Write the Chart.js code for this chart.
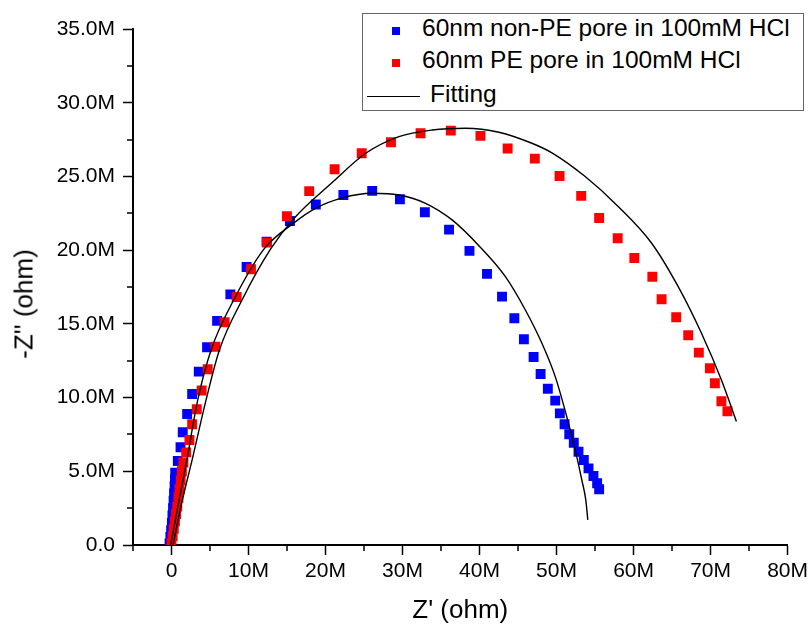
<!DOCTYPE html>
<html>
<head>
<meta charset="utf-8">
<script src="https://cdn.jsdelivr.net/npm/chart.js@4.4.0/dist/chart.umd.min.js"></script>
<style>
  body { margin: 0; background: #fff; }
  #area { position: relative; width: 812px; height: 626px; font-family: 'Liberation Sans', Arial, sans-serif; color: #000; }
  #grafico { position: absolute; left: 0; top: 0; }
  #caixaLegenda { position: absolute; left: 362px; top: 13px; width: 440px; height: 96px; border: 1px solid #666; background: #fff; }
  .texto { position: absolute; font-size: 24.5px; line-height: 30px; white-space: nowrap; }
  .marca { position: absolute; width: 8px; height: 8px; }
  #tituloY { position: absolute; left: 24px; top: 304px; font-size: 26px; white-space: nowrap; transform: translate(-50%, -50%) rotate(-90deg); }
</style>
</head>
<body>
<div id="area">
  <canvas id="grafico" width="812" height="626"></canvas>
  <div id="caixaLegenda"></div>
  <div class="marca" style="left:392px; top:27px; background:#0000ff;"></div>
  <div class="texto" style="left:422px; top:12.5px;">60nm non-PE pore in 100mM HCl</div>
  <div class="marca" style="left:392px; top:59px; background:#ff0000;"></div>
  <div class="texto" style="left:422px; top:45px;">60nm PE pore in 100mM HCl</div>
  <div style="position:absolute; left:367px; top:96px; width:53px; height:0; border-top:1.5px solid #000;"></div>
  <div class="texto" style="left:430px; top:78.5px;">Fitting</div>
  <div id="tituloY">-Z'' (ohm)</div>
</div>
<script>
// valores em Mohm
var zReSemPE = [-0.25, -0.15, -0.05, 0.05, 0.12, 0.2, 0.27, 0.33, 0.4, 0.45, 0.48,
    0.82, 1.17, 1.46, 2.03, 2.68, 3.54, 4.62, 5.92, 7.64, 9.75,
    12.34, 15.38, 18.74, 22.32, 26.06, 29.66, 32.9, 36.04, 38.69, 40.97,
    42.92, 44.52, 45.76, 47.02, 47.93, 48.87, 49.83, 50.43, 51.04, 51.65,
    52.24, 52.85, 53.54, 54.15, 54.79, 55.27, 55.53];
var zImSemPE = [0.1, 0.55, 1.0, 1.5, 2.0, 2.5, 3.0, 3.5, 4.0, 4.45, 4.9,
    5.7, 6.63, 7.65, 8.89, 10.24, 11.76, 13.41, 15.2, 17.0, 18.86,
    20.58, 21.98, 23.1, 23.74, 24.02, 23.45, 22.57, 21.39, 19.95, 18.39,
    16.85, 15.38, 13.96, 12.75, 11.6, 10.6, 9.79, 8.93, 8.19, 7.51,
    6.94, 6.33, 5.77, 5.2, 4.68, 4.19, 3.78];

var zReComPE = [0.0, 0.15, 0.3, 0.45, 0.6, 0.75, 0.9, 1.05, 1.2, 1.35, 1.55,
    1.9, 2.33, 2.68, 3.28, 3.92, 4.7, 5.7, 6.9, 8.46, 10.32,
    12.4, 14.99, 17.88, 21.18, 24.7, 28.5, 32.34, 36.27, 40.12, 43.65,
    47.18, 50.39, 53.2, 55.53, 57.94, 60.1, 62.44, 63.64, 65.54, 67.1,
    68.48, 69.91, 70.56, 71.41, 72.19];
var zImComPE = [0.1, 0.6, 1.1, 1.6, 2.1, 2.6, 3.2, 3.8, 4.4, 5.0, 5.6,
    6.28, 7.12, 8.19, 9.21, 10.48, 11.92, 13.45, 15.11, 16.82, 18.7,
    20.51, 22.3, 24.0, 25.49, 26.57, 27.32, 27.93, 28.11, 27.75, 26.89,
    26.21, 25.03, 23.68, 22.18, 20.81, 19.47, 18.2, 16.67, 15.45, 14.23,
    13.05, 11.99, 10.97, 9.75, 9.07];

// curvas de ajuste
var ajusteReSemPE = [-0.1, 0.9, 1.9, 3.41, 5.14, 8.16, 12.05, 15.9, 18.74, 22.19, 26.07, 29.53,
    32.99, 36.44, 40.1, 43.36, 45.95, 48.1, 49.83, 51.33, 52.42, 53.28, 53.8, 54.06];
var ajusteImSemPE = [0, 2.8, 5.5, 9.84, 13.23, 16.7, 20.1, 21.85, 22.85, 23.55, 23.86, 23.74,
    23.18, 22.05, 20.2, 18.2, 15.94, 13.68, 11.42, 8.7, 6.45, 4.41, 3.05, 1.7];

var ajusteReComPE = [0.2, 1.3, 2.6, 4.49, 6.22, 9.24, 12.9, 15.9, 20.9, 25.22, 29.53, 33.85,
    38.17, 42.5, 46.8, 49.4, 53.72, 58.03, 62.35, 65.8, 68.82, 71.41, 73.36];
var ajusteImComPE = [0, 2.8, 5.6, 9.84, 13.23, 16.7, 20.1, 22.15, 24.6, 26.57, 27.7, 28.15,
    28.27, 28.0, 27.25, 26.6, 24.99, 22.95, 20.47, 17.52, 14.36, 11.19, 8.37];

function juntarPontos(xs, ys) {
    var pontos = [];
    for (var i = 0; i < xs.length; i++) {
        pontos.push({ x: xs[i], y: ys[i] });
    }
    return pontos;
}

// tracos menores dos eixos (entre os principais)
var menoresX = [];
for (var v = -5; v < 80; v += 10) menoresX.push(v);
var menoresY = [];
for (var w = 2.5; w < 35; w += 5) menoresY.push(w);

const tracosMenores = {
    id: 'tracosMenores',
    afterDraw(chart) {
        const ctx = chart.ctx;
        const area = chart.chartArea;
        const escX = chart.scales.x;
        const escY = chart.scales.y;
        ctx.save();
        ctx.strokeStyle = '#000';
        ctx.lineWidth = 1.5;
        ctx.beginPath();
        menoresX.forEach(function (val) {
            let px = Math.round(escX.getPixelForValue(val));
            ctx.moveTo(px, area.bottom);
            ctx.lineTo(px, area.bottom + 6);
        });
        menoresY.forEach(function (val) {
            let py = Math.round(escY.getPixelForValue(val));
            ctx.moveTo(area.left, py);
            ctx.lineTo(area.left - 6, py);
        });
        ctx.stroke();
        ctx.restore();
    }
};

Chart.defaults.font.family = "'Liberation Sans', Arial, sans-serif";
Chart.defaults.color = '#000';

function plotarGrafico() {
    const config = {
        type: 'scatter',
        data: {
            datasets: [
                {
                    label: '60nm non-PE pore in 100mM HCl',
                    data: juntarPontos(zReSemPE, zImSemPE),
                    pointStyle: 'rect',
                    pointRadius: 7,
                    backgroundColor: '#0000ff',
                    borderWidth: 0,
                    order: 2
                },
                {
                    label: '60nm PE pore in 100mM HCl',
                    data: juntarPontos(zReComPE, zImComPE),
                    pointStyle: 'rect',
                    pointRadius: 7,
                    backgroundColor: '#ff0000',
                    borderWidth: 0,
                    order: 1
                },
                {
                    label: 'Fitting',
                    data: juntarPontos(ajusteReSemPE, ajusteImSemPE),
                    showLine: true,
                    pointRadius: 0,
                    borderColor: '#000',
                    borderWidth: 1.4,
                    cubicInterpolationMode: 'monotone',
                    order: 0
                },
                {
                    label: 'Fitting',
                    data: juntarPontos(ajusteReComPE, ajusteImComPE),
                    showLine: true,
                    pointRadius: 0,
                    borderColor: '#000',
                    borderWidth: 1.4,
                    cubicInterpolationMode: 'monotone',
                    order: 0
                }
            ]
        },
        options: {
            responsive: false,
            animation: false,
            layout: { padding: { top: 29, right: 23, bottom: 0, left: 0 } },
            plugins: {
                legend: { display: false },
                tooltip: { enabled: false }
            },
            scales: {
                x: {
                    type: 'linear',
                    min: -5,
                    max: 80,
                    afterFit: function (escala) { escala.height = 81; },
                    border: { color: '#000', width: 2 },
                    grid: { drawOnChartArea: false, tickLength: 10, tickColor: '#000', tickWidth: 1.5 },
                    ticks: {
                        stepSize: 10,
                        includeBounds: false,
                        maxRotation: 0,
                        autoSkip: false,
                        padding: 4,
                        font: { size: 21 },
                        callback: function (valor) { return valor === 0 ? '0' : valor + 'M'; }
                    },
                    title: {
                        display: true,
                        text: "Z' (ohm)",
                        font: { size: 26 },
                        padding: { top: 0, bottom: 0 }
                    }
                },
                y: {
                    type: 'linear',
                    min: 0,
                    max: 35,
                    afterFit: function (escala) { escala.width = 133; },
                    border: { color: '#000', width: 2 },
                    grid: { drawOnChartArea: false, tickLength: 10, tickColor: '#000', tickWidth: 1.5 },
                    ticks: {
                        stepSize: 5,
                        padding: 8,
                        font: { size: 21 },
                        callback: function (valor) { return valor === 0 ? '0.0' : valor.toFixed(1) + 'M'; }
                    }
                }
            }
        },
        plugins: [tracosMenores]
    };

    let meuGrafico = new Chart(document.getElementById('grafico'), config);
}

plotarGrafico();
</script>
</body>
</html>
